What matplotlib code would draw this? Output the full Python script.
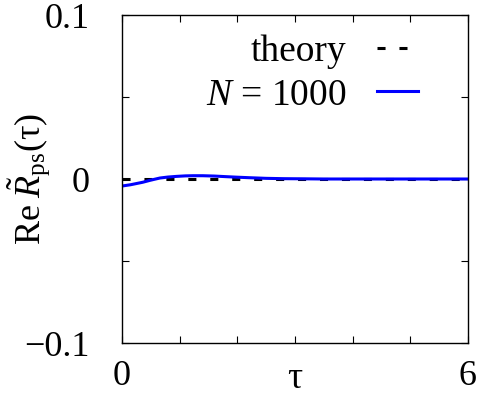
import numpy as np
import matplotlib
matplotlib.use("Agg")
import matplotlib.pyplot as plt

plt.rcParams['font.family'] = ['Liberation Serif', 'DejaVu Serif']
plt.rcParams['mathtext.fontset'] = 'custom'
plt.rcParams['mathtext.rm'] = 'Liberation Serif'
plt.rcParams['mathtext.it'] = 'Liberation Serif:italic'
plt.rcParams['mathtext.bf'] = 'Liberation Serif:bold'
plt.rcParams['lines.scale_dashes'] = False

# data
tau = [0, 0.15, 0.36, 0.5, 0.66, 0.8, 0.95, 1.1, 1.23, 1.4, 1.6, 1.82, 2.0, 2.2, 2.5, 2.8, 3.2, 3.5, 4.0, 5.0, 6.0]
re_n1000 = [-0.0043, -0.0035, -0.002, -0.0007, 0.0006, 0.0012, 0.0016, 0.0019, 0.002, 0.002, 0.0018, 0.0014,
            0.0011, 0.0008, 0.0004, 0.0002, 0.0001, 0.0, 0.0, 0.0, 0.0]
theory_tau = [0, 6]
theory_val = [0, 0]

fig = plt.figure(figsize=(4.78, 4.0), dpi=100)
ax = fig.add_axes([0.255, 0.1425, 0.724, 0.82])

ax.plot(theory_tau, theory_val, color='black', lw=2.2, dashes=(5.8, 10), label='theory')
ax.plot(tau, re_n1000, color='#0000ff', lw=2.2, label=r'$N$ = 1000')

ax.set_xlim(0, 6)
ax.set_ylim(-0.1, 0.1)
ax.set_xticks([0, 1, 2, 3, 4, 5, 6])
ax.set_xticklabels(['0', '', '', '', '', '', '6'])
ax.set_yticks([-0.1, -0.05, 0, 0.05, 0.1])
ax.set_yticklabels(['\u22120.1', '', '0', '', '0.1'])
ax.tick_params(direction='in', top=True, right=True, length=5, width=0.8, labelsize=26)
ax.tick_params(axis='x', pad=12)
ax.tick_params(axis='y', pad=23)

ax.set_xlabel('\u03c4', fontsize=27)
ax.xaxis.set_label_coords(0.5, -0.137)
ax.xaxis.label.set_verticalalignment('baseline')
ax.set_ylabel(r'Re$\;\tilde{R}_{\rm ps}(\mathrm{\tau})$', fontsize=26)
ax.yaxis.set_label_coords(-0.2, 0.5)

for s in ax.spines.values():
    s.set_linewidth(1.0)

ax.legend(loc='upper right', bbox_to_anchor=(0.92, 1.01), frameon=False, markerfirst=False,
          fontsize=27, handlelength=1.1, handletextpad=0.8, labelspacing=0.25, borderaxespad=0.2)

fig.savefig('out.png', dpi=100)
